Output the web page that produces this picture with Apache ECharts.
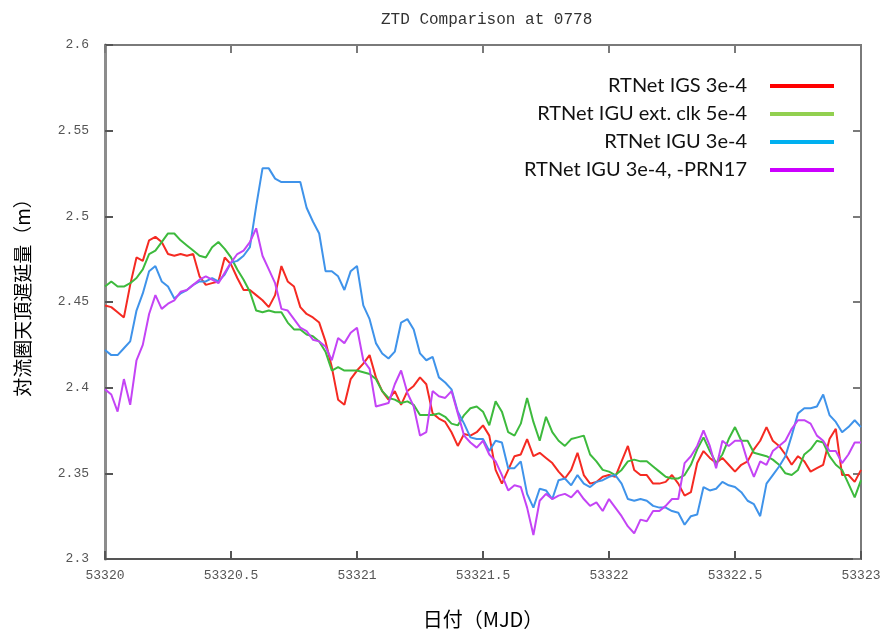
<!DOCTYPE html>
<html>
<head>
<meta charset="utf-8">
<script src="https://cdn.jsdelivr.net/npm/echarts@6/dist/echarts.min.js"></script>
<style>
  html, body { margin: 0; padding: 0; background: #fff; }
  #chart { width: 886px; height: 634px; }
</style>
</head>
<body>
<div id="chart"></div>
<script>
// ZTD time series, one sample every 0.025 day starting at MJD 53320
const startMJD = 53320;
const sampleStep = 0.025;

const seriesNames = [
  'RTNet IGS 3e-4',
  'RTNet IGU ext. clk 5e-4',
  'RTNet IGU 3e-4',
  'RTNet IGU 3e-4, -PRN17'
];

const ztdIGS = [
  2.448, 2.447, 2.444, 2.441, 2.460, 2.476, 2.474, 2.486, 2.488, 2.485,
  2.478, 2.477, 2.478, 2.477, 2.478, 2.465, 2.460, 2.461, 2.462, 2.476,
  2.472, 2.464, 2.457, 2.457, 2.454, 2.451, 2.447, 2.454, 2.471, 2.462,
  2.459, 2.447, 2.443, 2.441, 2.438, 2.427, 2.412, 2.393, 2.390, 2.405,
  2.410, 2.414, 2.419, 2.406, 2.398, 2.393, 2.398, 2.390, 2.398, 2.401,
  2.406, 2.402, 2.385, 2.382, 2.380, 2.374, 2.366, 2.373, 2.372, 2.374,
  2.378, 2.372, 2.352, 2.344, 2.352, 2.360, 2.361, 2.370, 2.360, 2.362,
  2.359, 2.356, 2.351, 2.347, 2.352, 2.362, 2.349, 2.344, 2.345, 2.348,
  2.349, 2.348, 2.357, 2.366, 2.352, 2.349, 2.349, 2.344, 2.344, 2.345,
  2.349, 2.344, 2.337, 2.339, 2.356, 2.363, 2.359, 2.356, 2.359, 2.355,
  2.351, 2.355, 2.357, 2.364, 2.369, 2.377, 2.369, 2.366, 2.361, 2.355,
  2.360, 2.357, 2.351, 2.353, 2.355, 2.370, 2.376, 2.349, 2.349, 2.345,
  2.352
];

const ztdIGUExtClk = [
  2.459, 2.462, 2.459, 2.459, 2.461, 2.464, 2.469, 2.478, 2.480, 2.485,
  2.490, 2.490, 2.486, 2.483, 2.480, 2.477, 2.476, 2.482, 2.485, 2.481,
  2.476, 2.469, 2.463, 2.456, 2.445, 2.444, 2.445, 2.444, 2.444, 2.438,
  2.434, 2.434, 2.431, 2.430, 2.427, 2.421, 2.410, 2.412, 2.410, 2.410,
  2.410, 2.409, 2.408, 2.405, 2.398, 2.394, 2.393, 2.391, 2.392, 2.390,
  2.384, 2.384, 2.384, 2.385, 2.383, 2.379, 2.378, 2.384, 2.388, 2.389,
  2.386, 2.378, 2.392, 2.386, 2.374, 2.372, 2.379, 2.394, 2.380, 2.369,
  2.383, 2.374, 2.369, 2.366, 2.370, 2.371, 2.372, 2.361, 2.357, 2.352,
  2.351, 2.349, 2.352, 2.357, 2.358, 2.357, 2.357, 2.354, 2.351, 2.348,
  2.347, 2.347, 2.349, 2.355, 2.364, 2.371, 2.363, 2.356, 2.361, 2.370,
  2.377, 2.369, 2.369, 2.362, 2.361, 2.360, 2.358, 2.355, 2.350, 2.349,
  2.352, 2.361, 2.364, 2.369, 2.368, 2.360, 2.355, 2.352, 2.344, 2.336,
  2.346
];

const ztdIGU = [
  2.422, 2.419, 2.419, 2.423, 2.427, 2.445, 2.455, 2.468, 2.471, 2.462,
  2.459, 2.452, 2.455, 2.457, 2.460, 2.462, 2.462, 2.464, 2.462, 2.466,
  2.473, 2.474, 2.477, 2.482, 2.506, 2.528, 2.528, 2.522, 2.520, 2.520,
  2.520, 2.520, 2.505, 2.497, 2.490, 2.468, 2.468, 2.465, 2.457, 2.468,
  2.471, 2.448, 2.440, 2.426, 2.420, 2.417, 2.421, 2.438, 2.440, 2.434,
  2.420, 2.416, 2.418, 2.406, 2.403, 2.399, 2.386, 2.379, 2.371, 2.370,
  2.370, 2.363, 2.369, 2.368, 2.353, 2.353, 2.357, 2.338, 2.330, 2.341,
  2.340, 2.335, 2.346, 2.347, 2.343, 2.349, 2.344, 2.342, 2.345, 2.346,
  2.348, 2.349, 2.344, 2.335, 2.334, 2.335, 2.334, 2.331, 2.330, 2.330,
  2.328, 2.327, 2.320, 2.325, 2.326, 2.342, 2.340, 2.341, 2.345, 2.343,
  2.342, 2.339, 2.334, 2.332, 2.325, 2.344, 2.349, 2.354, 2.360, 2.372,
  2.385, 2.388, 2.388, 2.389, 2.396, 2.384, 2.380, 2.374, 2.377, 2.381,
  2.377
];

const ztdIGUNoPRN17 = [
  2.399, 2.396, 2.386, 2.405, 2.390, 2.416, 2.425, 2.443, 2.454, 2.446,
  2.449, 2.451, 2.456, 2.457, 2.460, 2.463, 2.465, 2.463, 2.461, 2.467,
  2.473, 2.478, 2.480, 2.485, 2.493, 2.477, 2.469, 2.461, 2.446, 2.445,
  2.440, 2.435, 2.433, 2.428, 2.427, 2.424, 2.416, 2.429, 2.426, 2.432,
  2.435, 2.416, 2.411, 2.389, 2.390, 2.391, 2.402, 2.410, 2.397, 2.389,
  2.372, 2.374, 2.398, 2.395, 2.394, 2.398, 2.385, 2.372, 2.368, 2.365,
  2.369, 2.361, 2.357, 2.349, 2.340, 2.343, 2.342, 2.330, 2.314, 2.334,
  2.338, 2.335, 2.337, 2.338, 2.336, 2.340, 2.335, 2.331, 2.333, 2.328,
  2.335, 2.330, 2.325, 2.319, 2.315, 2.323, 2.322, 2.328, 2.328, 2.331,
  2.335, 2.335, 2.356, 2.360, 2.366, 2.375, 2.366, 2.353, 2.369, 2.366,
  2.369, 2.369, 2.357, 2.348, 2.357, 2.355, 2.363, 2.366, 2.369, 2.376,
  2.381, 2.381, 2.379, 2.372, 2.369, 2.363, 2.363, 2.356, 2.361, 2.368,
  2.368
];

const seriesValues = [ztdIGS, ztdIGUExtClk, ztdIGU, ztdIGUNoPRN17];
const lineColors = ['#f52a22', '#3dba3d', '#3f93ea', '#c444f5'];
const legendColors = ['#ff0000', '#92d050', '#00b0f0', '#cc00ff'];
const legendRowsY = [88, 116, 144, 172];

const mjdTickFormat = v => String(Math.round(v * 10) / 10);
const ztdTickFormat = v => String(Math.round(v * 100) / 100);

const chart = echarts.init(document.getElementById('chart'), null, { renderer: 'canvas' });

const tickFont = { fontFamily: 'Liberation Mono', fontSize: 13, color: '#555' };
const frameColor = '#7a7a7a';

function toPairs(values) {
  return values.map((v, i) => [startMJD + i * sampleStep, v]);
}

const option = {
  backgroundColor: '#fff',
  animation: false,
  title: {
    text: 'ZTD Comparison at 0778',
    left: 376,
    top: 7,
    textStyle: { fontFamily: 'Liberation Mono', fontSize: 16, fontWeight: 'normal', color: '#333' }
  },
  grid: {
    left: 105, right: 25, top: 45, bottom: 60,
    show: true, borderColor: frameColor, borderWidth: 2, backgroundColor: '#fff'
  },
  legend: seriesNames.map((name, i) => ({
    data: [{ name: name, itemStyle: { color: legendColors[i] } }],
    right: 52,
    top: legendRowsY[i] - 12,
    align: 'right',
    icon: 'rect',
    itemWidth: 64,
    itemHeight: 4,
    padding: 0,
    selectedMode: false,
    textStyle: { fontFamily: 'Lato', fontSize: 20, color: '#111', padding: [0, 18, 0, 0] }
  })),
  xAxis: [
    {
      type: 'value', min: 53320, max: 53323, interval: 0.5,
      name: '日付（MJD）', nameLocation: 'middle', nameGap: 50,
      nameTextStyle: { fontFamily: 'Noto Sans CJK JP', fontSize: 20, color: '#000' },
      axisLine: { show: true, lineStyle: { color: '#555', width: 2 } },
      axisTick: { show: true, inside: true, length: 8, lineStyle: { color: '#555', width: 2 } },
      axisLabel: Object.assign({ margin: 10, formatter: mjdTickFormat }, tickFont),
      splitLine: { show: false }
    },
    {
      type: 'value', min: 53320, max: 53323, interval: 0.5, position: 'top',
      axisLine: { show: false },
      axisTick: { show: true, inside: true, length: 8, lineStyle: { color: frameColor, width: 2 } },
      axisLabel: { show: false },
      splitLine: { show: false }
    }
  ],
  yAxis: [
    {
      type: 'value', min: 2.3, max: 2.6, interval: 0.05,
      name: '対流圏天頂遅延量（m）', nameLocation: 'middle', nameRotate: 90, nameGap: 73,
      nameTextStyle: { fontFamily: 'Noto Sans CJK JP', fontSize: 19, color: '#000', padding: [0, 0, 0, 18] },
      axisLine: { show: true, lineStyle: { color: '#8c8c8c', width: 3 } },
      axisTick: { show: true, inside: true, length: 8, lineStyle: { color: '#555', width: 2 } },
      axisLabel: Object.assign({ margin: 16, formatter: ztdTickFormat }, tickFont),
      splitLine: { show: false }
    },
    {
      type: 'value', min: 2.3, max: 2.6, interval: 0.05, position: 'right',
      axisLine: { show: false },
      axisTick: { show: true, inside: true, length: 8, lineStyle: { color: frameColor, width: 2 } },
      axisLabel: { show: false },
      splitLine: { show: false }
    }
  ],
  series: seriesNames.map((name, i) => ({
    name: name,
    type: 'line',
    xAxisIndex: 0,
    yAxisIndex: 0,
    showSymbol: false,
    symbol: 'none',
    clip: true,
    data: toPairs(seriesValues[i]),
    itemStyle: { color: lineColors[i] },
    lineStyle: { color: lineColors[i], width: 2 }
  }))
};

chart.setOption(option);
</script>
</body>
</html>
